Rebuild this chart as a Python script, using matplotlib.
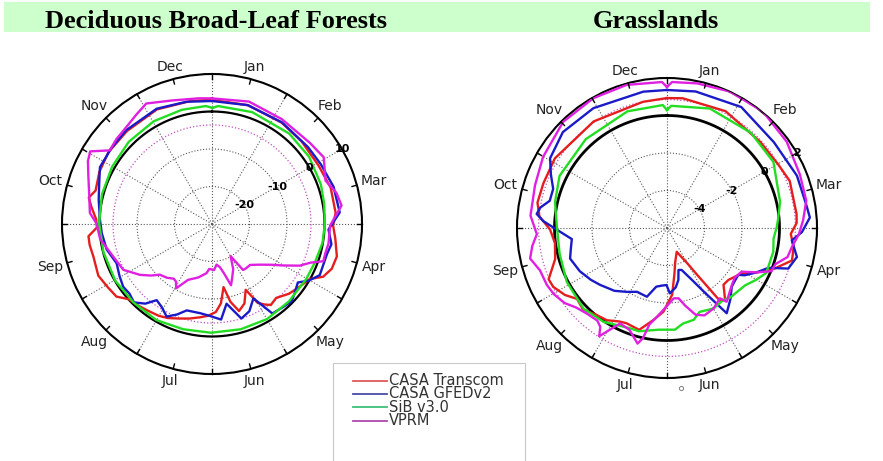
import numpy as np
import matplotlib
matplotlib.use("Agg")
import matplotlib.pyplot as plt
from matplotlib.lines import Line2D
from matplotlib.patches import Rectangle, Circle

# ---------------- data ----------------
months = ["Jan", "Feb", "Mar", "Apr", "May", "Jun",
          "Jul", "Aug", "Sep", "Oct", "Nov", "Dec"]
series_names = ["CASA Transcom", "CASA GFEDv2", "SiB v3.0", "VPRM"]
series_colors = ["#e41e1e", "#1a1ac8", "#22dd22", "#e020e0"]
legend_colors = ["#e05a5a", "#4a4aa8", "#3cc07a", "#b048b0"]
panel_titles = ["Deciduous Broad-Leaf Forests", "Grasslands"]

dbf_rticks = [-20, -10, 0, 10]
gra_rticks = [-4, -2, 0, 2]
dbf_ref_circle = -3.6
gra_ref_circle = 0.85

# Deciduous broad-leaf forests (day of year, flux)
dbf_transcom_day = [0, 17, 35, 48, 62, 74, 86, 92, 98, 106, 112, 117, 121, 127, 134, 141, 146, 149, 152, 155,
                    160, 165, 169, 172, 176, 180, 185, 190, 196, 202, 208, 213, 220, 225, 231, 236, 242, 249, 258, 264,
                    268, 272, 276, 282, 286, 290, 299, 309, 322, 339, 355, 365]
dbf_transcom_val = [3.1, 3.1, 2.8, 2.5, 2.4, 3.1, 3.1, 2.3, 3.1, 4.4, 4.1, 2.8, -0.1, -1.2, -2.3, -3.9, -3.3, -4.4, -5.7, -10.3,
                    -7.1, -5.7, -8.7, -12.9, -8.7, -6.5, -5.5, -4.9, -4.1, -3.3, -2.3, -1.7, -1.2, -0.7, -0.1, 2.0, 2.5, 3.3, 2.8, 3.1,
                    3.1, 0.7, 0.9, 2.5, 3.6, 2.3, 3.1, 3.6, 3.6, 3.9, 3.3, 3.1]

dbf_gfed_day = [0, 17, 35, 52, 62, 74, 86, 94, 101, 106, 117, 122, 126, 132, 136, 142, 148, 153, 159, 165,
                172, 177, 184, 190, 199, 204, 209, 214, 219, 223, 228, 233, 238, 244, 251, 260, 269, 276, 286, 294,
                301, 311, 322, 339, 353, 365]
dbf_gfed_val = [2.8, 3.1, 2.9, 2.8, 3.1, 3.9, 4.2, 1.1, 2.3, 1.7, 1.8, -0.1, -2.3, -1.2, -0.4, -0.9, -1.2, -7.3, -4.7, -3.6,
                -8.4, -4.4, -5.5, -6.0, -6.0, -4.1, -2.5, -4.1, -4.9, -2.3, -0.5, -1.2, -1.0, -1.7, -2.5, -1.1, -0.5, -0.1, 0.9, 2.0,
                3.5, 3.6, 3.9, 4.1, 3.3, 2.8]

dbf_sib_day = [0, 3, 20, 41, 56, 71, 81, 91, 101, 112, 122, 137, 152, 167, 183, 198, 213, 228, 243, 259,
               274, 289, 304, 319, 335, 350, 362, 365]
dbf_sib_val = [0.9, 1.5, 1.7, 1.7, 1.5, 0.9, 0.4, 0.1, -0.1, -0.7, -0.9, -0.9, -0.7, -0.9, -1.0, -0.9, -0.4, -0.4, -0.1, -0.1,
               0.1, 0.4, 0.7, 1.2, 1.5, 1.5, 1.5, 1.0]

dbf_vprm_day = [0, 17, 34, 51, 60, 70, 77, 83, 92, 101, 106, 110, 113, 117, 122, 126, 132, 139, 144, 148,
                152, 157, 162, 165, 169, 172, 176, 180, 186, 189, 197, 206, 212, 215, 218, 223, 229, 233, 238, 246,
                255, 266, 274, 279, 287, 295, 301, 305, 310, 316, 323, 330, 336, 347, 359, 365]
dbf_vprm_val = [3.5, 4.1, 3.6, 3.9, 4.7, 2.4, 4.2, 4.9, 1.5, 1.5, 1.2, 1.3, -1.8, -4.1, -8.1, -10.7, -13.2, -15.1, -15.1, -15.2,
                -20.1, -16.7, -14.5, -12.9, -16.7, -18.3, -19.1, -17.7, -18.0, -16.8, -15.3, -13.8, -10.4, -11.9, -12.2, -11.3, -10.6, -8.7, -6.5, -3.4,
                -2.3, 0.1, 0.8, 2.7, 3.6, 5.3, 7.1, 7.8, 3.6, 4.1, 4.5, 5.5, 6.6, 4.6, 3.7, 3.5]

# Grasslands (day of year, flux)
gra_transcom_day = [0, 7, 27, 48, 61, 70, 85, 89, 94, 100, 106, 112, 118, 123, 132, 137, 143, 146, 149, 152,
                    160, 169, 173, 178, 185, 191, 198, 206, 210, 216, 222, 229, 235, 240, 246, 250, 258, 266, 273, 279,
                    285, 294, 306, 330, 354, 365]
gra_transcom_val = [0.93, 0.97, 0.97, 0.77, 0.83, 1.01, 0.95, 0.92, 0.61, 0.83, 0.89, 0.15, -0.67, -1.34, -1.71, -1.73, -1.07, -1.2, -2.93, -3.79,
                    -4.63, -4.11, -3.55, -2.43, -1.53, -1.04, -0.37, -0.48, -0.4, -0.13, -0.03, 0.24, 0.11, 0.51, 0.83, 0.88, 0.19, 0.03, 0.24, 0.83,
                    1.04, 1.01, 1.04, 0.9, 0.85, 0.93]

gra_gfed_day = [0, 12, 32, 52, 69, 81, 87, 93, 97, 104, 110, 113, 118, 123, 125, 130, 134, 140, 147, 152,
                156, 163, 167, 170, 174, 180, 183, 188, 193, 199, 208, 215, 223, 233, 239, 247, 256, 262, 267, 274,
                277, 280, 283, 287, 293, 299, 305, 317, 333, 355, 365]
gra_gfed_val = [1.36, 1.44, 1.57, 1.31, 1.47, 1.52, 1.64, 1.2, 0.69, 1.1, 0.82, -0.19, -0.67, -1.15, -1.45, -1.41, -1.34, -0.93, -0.45, -2.07,
                -2.86, -3.63, -3.68, -3.16, -2.8, -2.51, -2.96, -2.91, -2.82, -2.18, -2.24, -1.98, -1.63, -1.31, -1.09, -0.81, -0.58, -0.77, -0.89, 0.06,
                0.61, 0.99, 0.85, 0.42, 0.42, 0.83, 1.26, 1.55, 1.5, 1.38, 1.36]

gra_sib_day = [0, 2, 20, 42, 59, 78, 86, 91, 97, 104, 116, 122, 128, 140, 144, 152, 161, 166, 173, 178,
               187, 198, 203, 217, 229, 245, 260, 275, 287, 300, 322, 346, 363, 365]
gra_sib_val = [0.29, 0.52, 0.77, 0.77, 0.68, 0.19, -0.04, -0.15, -0.29, -0.19, -0.19, -0.51, -0.83, -0.99, -1.13, -1.04, -1.2, -0.9, -0.83, -0.56,
               -0.56, -0.29, -0.3, 0.04, 0.19, 0.07, -0.11, -0.12, 0.13, 0.37, 0.42, 0.57, 0.56, 0.29]

gra_vprm_day = [0, 2, 12, 25, 40, 55, 69, 80, 88, 94, 100, 105, 110, 114, 118, 122, 128, 133, 138, 143,
                145, 152, 159, 164, 169, 173, 177, 184, 189, 193, 195, 197, 203, 209, 215, 217, 220, 226, 232, 237,
                243, 248, 255, 261, 266, 271, 279, 292, 304, 320, 335, 349, 363, 365]
gra_vprm_val = [1.52, 1.79, 1.88, 2.01, 2.05, 1.87, 1.64, 1.57, 1.27, 1.04, 0.74, 0.61, 0.09, 0.03, -0.67, -1.39, -1.52, -1.4, -1.2, -0.94,
                -1.31, -1.04, -0.93, -1.13, -1.73, -2.2, -2.23, -1.72, -1.24, -0.77, 0.02, 0.36, -0.21, -0.33, 0.81, 0.36, 0.18, 0.25, 0.44, 0.77,
                0.99, 1.09, 1.14, 1.48, 1.25, 0.95, 1.31, 1.4, 1.62, 1.92, 1.96, 1.93, 1.79, 1.52]

dbf_series = [(dbf_transcom_day, dbf_transcom_val), (dbf_gfed_day, dbf_gfed_val),
              (dbf_sib_day, dbf_sib_val), (dbf_vprm_day, dbf_vprm_val)]
gra_series = [(gra_transcom_day, gra_transcom_val), (gra_gfed_day, gra_gfed_val),
              (gra_sib_day, gra_sib_val), (gra_vprm_day, gra_vprm_val)]

# ---------------- figure ----------------
W, H = 883, 461
fig = plt.figure(figsize=(W / 100, H / 100), dpi=100)
fig.patch.set_facecolor("white")

# title band
fig.add_artist(Rectangle((4 / W, 1 - 32 / H), 866 / W, 30 / H, transform=fig.transFigure,
                         facecolor="#ccffcc", edgecolor="none", zorder=0))
for title, xc in zip(panel_titles, [216, 656]):
    fig.text(xc / W, 1 - 27.5 / H, title, ha="center", va="baseline",
             family="Liberation Serif", fontweight="bold", fontsize=19)

R = 150.0


def day_to_theta(days):
    return 2 * np.pi * np.asarray(days, dtype=float) / 365.0


def make_panel(cx, cy, rticks, series, ref_circle, zero_lw):
    rmin = rticks[0] - (rticks[1] - rticks[0])
    rmax = rticks[-1]
    ax = fig.add_axes([(cx - R) / W, (H - cy - R) / H, 2 * R / W, 2 * R / H], projection="polar")
    ax.set_theta_zero_location("N")
    ax.set_theta_direction(-1)
    ax.set_facecolor("none")

    full = np.linspace(0, 2 * np.pi, 721)
    ax.plot(full, np.full_like(full, ref_circle), color="#c050c0", ls=":", lw=0.9, zorder=2)
    ax.plot(full, np.zeros_like(full), color="black", lw=zero_lw, zorder=2)

    for (d, v), c in zip(series, series_colors):
        ax.plot(day_to_theta(d), v, color=c, lw=1.7, zorder=3, solid_joinstyle="round")

    ax.set_ylim(rmin, rmax)
    ax.set_xticks(np.deg2rad(np.arange(0, 360, 30)))
    ax.set_xticklabels([])
    ax.set_yticks(rticks[:-1])
    ax.set_yticklabels([])
    ax.tick_params(axis="both", length=0)
    ax.grid(True, ls=":", color="0.35", lw=0.8)
    ax.spines["polar"].set_linewidth(1.5)
    ax.spines["polar"].set_color("black")

    span = rmax - rmin
    tl = span * 5.0 / R
    for a in range(0, 360, 15):
        th = np.deg2rad(a)
        ax.plot([th, th], [rmax - tl, rmax], color="black", lw=1.0, clip_on=False, zorder=4)

    for i, m in enumerate(months):
        a = np.deg2rad(15 + 30 * i)
        rpx = 152 + 14 * abs(np.sin(a)) + 7 * abs(np.cos(a))
        ax.text(a, rmin + rpx / R * span, m, ha="center", va="center", fontsize=10,
                color="#222222", clip_on=False)

    for t in rticks:
        ax.text(np.deg2rad(60), t, f"{t}", ha="center", va="center", fontsize=8,
                fontweight="bold", color="black", zorder=5)
    return ax


make_panel(212, 224, dbf_rticks, dbf_series, dbf_ref_circle, 1.6)
make_panel(667, 228, gra_rticks, gra_series, gra_ref_circle, 2.0)

# legend box
fig.add_artist(Rectangle((333 / W, 1 - 475 / H), 192 / W, 112 / H, transform=fig.transFigure,
                         facecolor="white", edgecolor="#c8c8c8", lw=0.8, zorder=6))
for i, (name, c) in enumerate(zip(series_names, legend_colors)):
    y = 1 - (380.5 + 13.4 * i) / H
    fig.add_artist(Line2D([353 / W, 387 / W], [y, y], transform=fig.transFigure,
                          color=c, lw=1.3, zorder=7))
    fig.text(389 / W, y, name, ha="left", va="center", fontsize=10.5, color="#333333", zorder=7)

# small marker under grassland panel
fig.add_artist(Line2D([681 / W], [1 - 388 / H], transform=fig.transFigure, marker="o",
                      ms=3, mfc="none", mec="0.5", mew=0.7, ls="none"))

fig.savefig("out.png", dpi=100, facecolor="white")
